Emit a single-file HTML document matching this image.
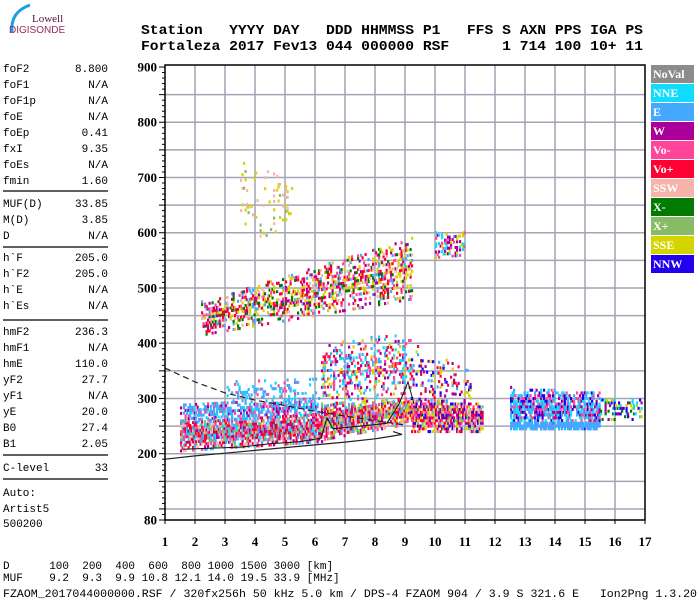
<!DOCTYPE html>
<html><head><meta charset="utf-8"><style>
html,body{margin:0;padding:0;background:#fff;width:700px;height:600px;overflow:hidden}
svg{display:block}
.mono{font-family:"Liberation Mono",monospace;font-size:11px;fill:#000}
.hdr{font-family:"Liberation Mono",monospace;font-size:13.5px;font-weight:bold;fill:#000}
.ax{font-family:"Liberation Serif",serif;font-size:13px;font-weight:bold;fill:#000}
.lg{font-family:"Liberation Serif",serif;font-size:12px;font-weight:bold;fill:#fff}
</style></head><body>
<svg id="chart" width="700" height="600" viewBox="0 0 700 600" xmlns="http://www.w3.org/2000/svg">
<g>
<path d="M12,32 Q10,12 30,5" stroke="#1aa0e0" stroke-width="3" fill="none"/>
<text x="32" y="22" font-family="Liberation Serif,serif" font-size="11" fill="#5a1030">Lowell</text>
<text x="9" y="33" font-family="Liberation Sans,sans-serif" font-size="10" fill="#9a2a5a">DIGISONDE</text>
</g>
<g>
<text class="hdr" x="141" y="34" textLength="502" lengthAdjust="spacingAndGlyphs" xml:space="preserve">Station   YYYY DAY   DDD HHMMSS P1   FFS S AXN PPS IGA PS</text>
<text class="hdr" x="141" y="50" textLength="502" lengthAdjust="spacingAndGlyphs" xml:space="preserve">Fortaleza 2017 Fev13 044 000000 RSF      1 714 100 10+ 11</text>
</g>
<g id="leftpanel"></g>
<g id="plot"></g>
<g id="legend"></g>
<g>
<text class="mono" x="3" y="569" xml:space="preserve" font-size="10.5">D      100  200  400  600  800 1000 1500 3000 [km]</text>
<text class="mono" x="3" y="581" xml:space="preserve" font-size="10.5">MUF    9.2  9.3  9.9 10.8 12.1 14.0 19.5 33.9 [MHz]</text>
<text class="mono" x="3" y="597" textLength="694" lengthAdjust="spacingAndGlyphs" xml:space="preserve" font-size="10.5">FZAOM_2017044000000.RSF / 320fx256h 50 kHz 5.0 km / DPS-4 FZAOM 904 / 3.9 S 321.6 E   Ion2Png 1.3.20</text>
</g>
</svg>
<script>
// ---- data ----
const params = [["foF2","8.800"],["foF1","N/A"],["foF1p","N/A"],["foE","N/A"],["foEp","0.41"],["fxI","9.35"],["foEs","N/A"],["fmin","1.60"],
 ["MUF(D)","33.85"],["M(D)","3.85"],["D","N/A"],["h`F","205.0"],["h`F2","205.0"],["h`E","N/A"],["h`Es","N/A"],
 ["hmF2","236.3"],["hmF1","N/A"],["hmE","110.0"],["yF2","27.7"],["yF1","N/A"],["yE","20.0"],["B0","27.4"],["B1","2.05"],["C-level","33"],
 ["Auto:",""],["Artist5",""],["500200",""]];
const paramY = [68,84,100,116,132,148,164,180, 203,219,235, 257,273,289,305, 331,347,363,379,395,411,427,443, 467, 492,508,523];
const sepY = [191,247,320,455,479];
const xTicks = [1,2,3,4,5,6,7,8,9,10,11,12,13,14,15,16,17];
const yTicks = [80,200,300,400,500,600,700,800,900];
const legendNames = ["NoVal","NNE","E","W","Vo-","Vo+","SSW","X-","X+","SSE","NNW"];
const legendColors = ["#8c8c8c","#11dcff","#44a8ff","#aa0099","#ff4499","#ff0033","#f7b2aa","#007a00","#88bb66","#d4d400","#2200ee"];
// echo regions: [f0,f1, hlo0,hlo1, hhi0,hhi1, density, colorIdx list]
const echoes = [
 [1.5,6.2, 205,222, 262,272, 0.85, [5,5,4,3,6,2,8,1]],
 [1.5,6.1, 258,270, 290,300, 0.6, [2,2,2,4,3,1]],
 [3.0,6.0, 290,295, 330,335, 0.25, [2,2,1,4]],
 [6.2,9.2, 225,255, 290,300, 0.85, [5,4,8,3,9,6,2]],
 [6.2,9.2, 290,300, 400,420, 0.3, [2,4,5,3,9,1]],
 [9.2,11.6, 240,240, 300,290, 0.8, [6,9,5,4,8,3,10]],
 [9.2,11.2, 300,290, 400,350, 0.2, [10,3,5,9,2]],
 [12.5,15.5, 245,245, 320,310, 0.7, [1,3,10,2,1,4]],
 [12.5,15.5, 245,245, 258,258, 0.9, [2,2,2]],
 [15.5,17, 262,262, 300,300, 0.35, [3,1,10,9,7]],
 [2.2,9.2, 415,480, 475,590, 0.45, [9,2,6,4,5,9,3,7,5]],
 [10.0,11.0, 555,560, 600,600, 0.5, [3,3,9,1,4]],
 [3.5,5.2, 590,600, 730,700, 0.08, [9,9,6,8]]
];
const solidLine = [[1,190],[2,196],[3,201],[4,206],[5,211],[6,216],[7,221],[8,227],[8.6,232],[8.9,235],[8.6,240]];
const dashedLine = [[1,355],[2,330],[3,310],[4,297],[5,287],[6,277],[7,268],[8,260],[9,252]];
const traceLine = [[1.6,208],[2.5,210],[3.5,212],[4.5,218],[5.5,222],[6.2,228],[6.4,265],[6.6,245],[7.5,250],[8.4,255],[8.8,290],[9.1,330],[9.3,290]];
// ---- scales ----
const X0=165, X1=645, Y0=65, Y1=520;
const xs = f => X0 + (f-1)*(X1-X0)/16;
const ys = h => Y1 - (h-80)*(Y1-67)/820;
const NS="http://www.w3.org/2000/svg";
function mk(tag, attrs, parent){const e=document.createElementNS(NS,tag);for(const k in attrs)e.setAttribute(k,attrs[k]);parent.appendChild(e);return e;}
// left panel
const lp=document.getElementById('leftpanel');
params.forEach((p,i)=>{
 const t=mk('text',{x:3,y:paramY[i]+4,class:'mono'},lp);t.textContent=p[0];
 
 
 if(p[1]){
 const v=mk('text',{x:108,y:paramY[i]+4,class:'mono','text-anchor':'end'},lp);v.textContent=p[1];
 
 
 }
});
sepY.forEach(y=>mk('line',{x1:3,x2:108,y1:y,y2:y,stroke:'#000','stroke-width':1.2},lp));
// plot
const pl=document.getElementById('plot');
for(let h=100;h<=850;h+=50){mk('line',{x1:X0,x2:X1,y1:ys(h),y2:ys(h),stroke:'#a4a4b4','stroke-width':1.5},pl);}
xTicks.forEach(f=>{if(f>1&&f<17)mk('line',{x1:xs(f),x2:xs(f),y1:Y0,y2:Y1,stroke:'#a4a4b4','stroke-width':1.5},pl);});
// echoes
function hash(a,b){let n=(a*374761393+b*668265263)|0;n=(n^(n>>>13))*1274126177|0;return ((n^(n>>>16))>>>0)/4294967296;}
const eg=mk('g',{},pl);


echoes.forEach((e,ei)=>{
 const [f0,f1,l0,l1,h0,h1,d,cols]=e;
 for(let f=f0;f<=f1;f+=0.05){
  const t=(f-f0)/(f1-f0||1);
  const lo=l0+(l1-l0)*t, hi=h0+(h1-h0)*t;
  for(let h=lo;h<=hi;h+=5){
   const fi=Math.round(f*20), hi2=Math.round(h/5);
   const edge=Math.min(h-lo,hi-h)/Math.max(hi-lo,1);
   if(hash(fi+ei*1000,hi2)<d*(0.5+edge*1.5)){
    const c=legendColors[cols[Math.floor(hash(hi2+ei*77,fi)*cols.length)]];
    mk('rect',{x:xs(f).toFixed(1),y:(ys(h)-1.5).toFixed(1),width:2.2,height:3,fill:c},eg);
   }
  }
 }
});
const path=pts=>pts.map((p,i)=>(i?'L':'M')+xs(p[0]).toFixed(1)+','+ys(p[1]).toFixed(1)).join(' ');
const s1=mk('path',{d:path(solidLine),stroke:'#222',fill:'none','stroke-width':1.2},pl);


const s2=mk('path',{d:path(dashedLine),stroke:'#222',fill:'none','stroke-width':1.2,'stroke-dasharray':'6,4'},pl);


const s3=mk('path',{d:path(traceLine),stroke:'#111',fill:'none','stroke-width':1},pl);


mk('rect',{x:X0,y:Y0,width:X1-X0,height:Y1-Y0,fill:'none',stroke:'#000','stroke-width':1.5},pl);
for(let h=80;h<=900;h+=10){const big=yTicks.includes(h)||h%50===0;mk('line',{x1:X0-(big?6:3),x2:X0,y1:ys(h),y2:ys(h),stroke:'#000','stroke-width':1},pl);}
yTicks.forEach(h=>{const t=mk('text',{x:157,y:ys(h)+4.5,class:'ax','text-anchor':'end'},pl);t.textContent=h;
 
 });
xTicks.forEach(f=>{mk('line',{x1:xs(f),x2:xs(f),y1:Y1,y2:Y1+4,stroke:'#000'},pl);
 const t=mk('text',{x:xs(f),y:546,class:'ax','text-anchor':'middle'},pl);t.textContent=f;
 
 });
// legend
const lg=document.getElementById('legend');
legendNames.forEach((n,i)=>{
 const y=65+i*19;
 const r=mk('rect',{x:651,y:y,width:43,height:18,fill:legendColors[i]},lg);
 
 
 const t=mk('text',{x:653,y:y+13,class:'lg'},lg);t.textContent=n;
 
 
});
</script>
</body></html>
